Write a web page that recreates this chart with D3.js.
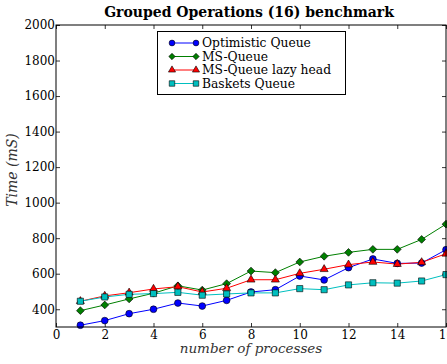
<!DOCTYPE html>
<html>
<head>
<meta charset="utf-8">
<script src="https://cdn.jsdelivr.net/npm/d3@7"></script>
<style>
  body { margin: 0; background: #fff; }
</style>
</head>
<body>
<svg width="447" height="364"></svg>
<script>
var width = 447;
var height = 364;
var margin = {top: 25, right: 1, bottom: 37, left: 56};
var serif = "DejaVu Serif";

var procs = [1, 2, 3, 4, 5, 6, 7, 8, 9, 10, 11, 12, 13, 14, 15, 16];
var optimistic = [310, 336, 375, 400, 435, 418, 450, 497, 510, 587, 565, 634, 683, 658, 660, 735];
var msQueue = [392, 424, 458, 490, 532, 508, 544, 615, 606, 666, 698, 720, 737, 737, 793, 879];
var msLazy = [445, 475, 493, 514, 527, 497, 518, 566, 566, 602, 625, 651, 666, 654, 664, 712];
var baskets = [445, 469, 484, 488, 495, 479, 486, 492, 492, 516, 510, 537, 549, 547, 559, 595];

var xTicks = [0, 2, 4, 6, 8, 10, 12, 14, 16];
var yTicks = [400, 600, 800, 1000, 1200, 1400, 1600, 1800, 2000];

var series = [
  {name: "Optimistic Queue", values: optimistic, color: "#0000ff", marker: "circle"},
  {name: "MS-Queue", values: msQueue, color: "#008000", marker: "diamond"},
  {name: "MS-Queue lazy head", values: msLazy, color: "#ff0000", marker: "triangle"},
  {name: "Baskets Queue", values: baskets, color: "#00bfbf", marker: "square"}
];

var svg = d3.select("svg");

var xScale = d3.scaleLinear()
              .domain([0, 16])
              .range([margin.left, width - margin.right]);

var yScale = d3.scaleLinear()
              .domain([300, 2000])
              .range([height - margin.bottom, margin.top]);

// marker shapes; diamond = square turned 45 degrees like matplotlib 'D'
var symbols = {
  circle: d3.symbol().type(d3.symbolCircle).size(36),
  diamond: d3.symbol().type(d3.symbolSquare).size(30),
  triangle: d3.symbol().type(d3.symbolTriangle).size(28),
  square: d3.symbol().type(d3.symbolSquare).size(38)
};
var legendSymbols = {
  circle: d3.symbol().type(d3.symbolCircle).size(26),
  diamond: d3.symbol().type(d3.symbolSquare).size(20),
  triangle: d3.symbol().type(d3.symbolTriangle).size(22),
  square: d3.symbol().type(d3.symbolSquare).size(30)
};
function rot(m) { return m == "diamond" ? " rotate(45)" : ""; }

var plotW = width - margin.left - margin.right;
var plotH = height - margin.top - margin.bottom;

// inward ticks on all four sides
var xAxis = d3.axisBottom(xScale).tickValues(xTicks).tickSize(-4).tickPadding(3)
              .tickSizeOuter(0).tickFormat(d3.format("d"));
var xAxisTop = d3.axisTop(xScale).tickValues(xTicks).tickSize(-4).tickSizeOuter(0).tickFormat("");
var yAxis = d3.axisLeft(yScale).tickValues(yTicks).tickSize(-4).tickPadding(1)
              .tickSizeOuter(0).tickFormat(d3.format("d"));
var yAxisRight = d3.axisRight(yScale).tickValues(yTicks).tickSize(-4).tickSizeOuter(0).tickFormat("");

function styleAxis(g) {
  g.attr("font-family", serif).attr("font-size", 12);
  g.select(".domain").remove();
  g.selectAll("line").attr("stroke", "#000").attr("stroke-width", 0.8);
  g.selectAll("text").attr("fill", "#000");
}

svg.append("g")
    .attr("transform", "translate(0," + (height - margin.bottom) + ")")
    .call(xAxis).call(styleAxis);
svg.append("g")
    .attr("transform", "translate(0," + margin.top + ")")
    .call(xAxisTop).call(styleAxis);
svg.append("g")
    .attr("transform", "translate(" + margin.left + ",0)")
    .call(yAxis).call(styleAxis);
svg.append("g")
    .attr("transform", "translate(" + (width - margin.right) + ",0)")
    .call(yAxisRight).call(styleAxis);

// lines and markers
var line = d3.line()
    .x((d, i) => xScale(procs[i]))
    .y(d => yScale(d));

series.forEach(function(s) {
  svg.append("path")
      .datum(s.values)
      .attr("fill", "none")
      .attr("stroke", s.color)
      .attr("stroke-width", 1)
      .attr("d", line);
});

series.forEach(function(s) {
  svg.append("g")
    .selectAll("path")
    .data(s.values)
    .enter()
    .append("path")
      .attr("transform", (d, i) => "translate(" + xScale(procs[i]) + "," + yScale(d) + ")" + rot(s.marker))
      .attr("d", symbols[s.marker])
      .attr("fill", s.color)
      .attr("stroke", "#000")
      .attr("stroke-width", 0.6);
});

// frame
svg.append("rect")
    .attr("x", margin.left)
    .attr("y", margin.top)
    .attr("width", plotW)
    .attr("height", plotH)
    .attr("fill", "none")
    .attr("stroke", "#000")
    .attr("stroke-width", 1);

// legend
var legend = svg.append("g").attr("transform", "translate(157,31)");
legend.append("rect")
    .attr("x", 0.5).attr("y", 0.5)
    .attr("width", 188).attr("height", 63)
    .attr("fill", "#fff")
    .attr("stroke", "#000")
    .attr("stroke-width", 1);

series.forEach(function(s, i) {
  var row = legend.append("g").attr("transform", "translate(0," + (12 + i * 13.5) + ")");
  row.append("line")
      .attr("x1", 15).attr("x2", 39)
      .attr("stroke", s.color).attr("stroke-width", 1);
  [15, 39].forEach(function(x) {
    row.append("path")
        .attr("transform", "translate(" + x + ",0)" + rot(s.marker))
        .attr("d", legendSymbols[s.marker])
        .attr("fill", s.color)
        .attr("stroke", "#000")
        .attr("stroke-width", 0.6);
  });
  row.append("text")
      .attr("x", 45)
      .attr("dy", "0.35em")
      .attr("font-family", serif)
      .attr("font-size", 12.3)
      .text(s.name);
});

// title
svg.append("text")
    .attr("x", (margin.left + width - margin.right) / 2 - 2)
    .attr("y", 17)
    .attr("text-anchor", "middle")
    .attr("font-family", serif)
    .attr("font-size", 14)
    .attr("font-weight", "bold")
    .text("Grouped Operations (16) benchmark");

// axis labels
svg.append("text")
    .attr("x", (margin.left + width - margin.right) / 2)
    .attr("y", 353)
    .attr("text-anchor", "middle")
    .attr("font-family", serif)
    .attr("font-size", 13.5)
    .attr("font-style", "italic")
    .attr("fill", "#333")
    .text("number of processes");

svg.append("text")
    .attr("transform", "translate(17,170) rotate(-90)")
    .attr("text-anchor", "middle")
    .attr("font-family", serif)
    .attr("font-size", 14)
    .attr("font-style", "italic")
    .attr("fill", "#333")
    .text("Time (mS)");
</script>
</body>
</html>
